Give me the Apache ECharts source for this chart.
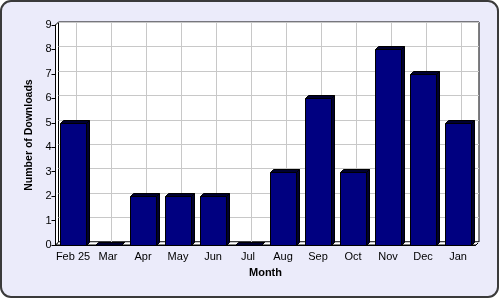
<!DOCTYPE html>
<html><head><meta charset="utf-8">
<script src="https://cdn.jsdelivr.net/npm/echarts@6/dist/echarts.min.js"></script>
<style>html,body{margin:0;padding:0;background:#fff}#c{width:500px;height:300px}</style>
</head><body><div id="c"></div>
<script>
const categories = ['Feb 25','Mar','Apr','May','Jun','Jul','Aug','Sep','Oct','Nov','Dec','Jan'];
const downloads = [5,0,2,2,2,0,3,6,3,8,7,5];
const yTicks = [0,1,2,3,4,5,6,7,8,9];

const FONT = 'Liberation Sans, Arial, sans-serif';
const D = 3;
const chart = echarts.init(document.getElementById('c'), null, {renderer:'canvas'});
chart.setOption({
  animation:false,
  backgroundColor:'transparent',
  graphic:[
    {type:'rect', z:-10, shape:{x:1,y:1,width:497,height:296,r:10}, style:{fill:'#EBEBFA', stroke:'#3a3a3a', lineWidth:2}},
    {type:'polygon', z:-5, shape:{points:[[55.5,245],[58.5,242],[479,242],[476,245]]}, style:{fill:'#fff', stroke:'#000', lineWidth:1}},
    {type:'polygon', z:-5, shape:{points:[[55.5,25],[58.5,22],[58.5,242],[55.5,245]]}, style:{fill:'#fff', stroke:'#000', lineWidth:1}}
  ],
  grid:[
    {left:55.5, right:24.5, top:25, bottom:55, show:false},
    {left:58.5, right:21, top:22, bottom:58, show:true, backgroundColor:'#fff', borderColor:'#000', borderWidth:1, z:-6}
  ],
  xAxis:[
    {type:'category', gridIndex:0, data:categories,
     name:'Month', nameLocation:'middle', nameGap:22,
     nameTextStyle:{fontFamily:FONT, fontSize:11, fontWeight:'bold', color:'#000'},
     axisLine:{lineStyle:{color:'#000', width:1}},
     axisTick:{alignWithLabel:true, length:4, lineStyle:{color:'#000'}},
     axisLabel:{fontFamily:FONT, fontSize:11, color:'#000', margin:6, interval:0},
     splitLine:{show:false}, z:5},
    {type:'category', gridIndex:1, data:categories, show:true,
     axisLine:{show:false}, axisTick:{show:false}, axisLabel:{show:false}, splitLine:{show:false}}
  ],
  yAxis:[
    {type:'value', gridIndex:0, min:yTicks[0], max:yTicks[yTicks.length-1], interval:1,
     name:'Number of Downloads', nameLocation:'middle', nameGap:18, nameRotate:90,
     nameTextStyle:{fontFamily:FONT, fontSize:10.5, fontWeight:'bold', color:'#000'},
     axisLine:{show:true, lineStyle:{color:'#000', width:1}},
     axisTick:{show:true, length:4, lineStyle:{color:'#000'}},
     axisLabel:{fontFamily:FONT, fontSize:11, color:'#000', margin:4},
     splitLine:{show:false}, z:5},
    {type:'value', gridIndex:1, min:yTicks[0], max:yTicks[yTicks.length-1], interval:1,
     axisLine:{show:false}, axisTick:{show:false}, axisLabel:{show:false},
     splitLine:{show:true, lineStyle:{color:'#c8c8c8', width:1}}}
  ],
  series:[
    {type:'custom', xAxisIndex:1, yAxisIndex:1, z:1, silent:true,
     data: categories.map((c,i)=>[i]),
     renderItem:function(params, api){
       const a = api.coord([api.value(0), yTicks[0]]);
       const b = api.coord([api.value(0), yTicks[yTicks.length-1]]);
       const x = Math.round(a[0]) + 0.5;
       return {type:'line', shape:{x1:x,y1:a[1],x2:x,y2:b[1]}, style:{stroke:'#c8c8c8', lineWidth:1}};
     }},
    {type:'custom', xAxisIndex:0, yAxisIndex:0, z:3,
     data: downloads.map((v,i)=>[i,v]),
     renderItem:function(params, api){
       const p = api.coord([api.value(0), api.value(1)]);
       const base = api.coord([api.value(0), 0]);
       const w = api.size([1,0])[0]*0.74;
       const l = Math.round(p[0]-w/2)+0.5, r = Math.round(p[0]+w/2)+0.5;
       const t = Math.round(p[1])+0.5, bt = Math.round(base[1])+0.5;
       return {type:'group', children:[
         {type:'polygon', shape:{points:[[l,t],[l+D,t-D],[r+D,t-D],[r,t]]}, style:{fill:'#000030', stroke:'#000', lineWidth:1}},
         {type:'polygon', shape:{points:[[r,t],[r+D,t-D],[r+D,bt-D],[r,bt]]}, style:{fill:'#000030', stroke:'#000', lineWidth:1}},
         {type:'rect', shape:{x:l, y:t, width:r-l, height:bt-t}, style:{fill:'#000080', stroke:'#000', lineWidth:1}}
       ]};
     }}
  ]
});
</script></body></html>
